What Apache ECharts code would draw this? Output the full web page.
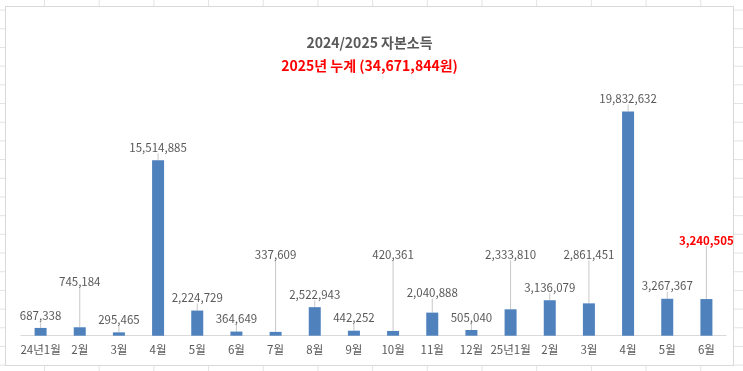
<!DOCTYPE html>
<html><head><meta charset="utf-8">
<script src="https://cdn.jsdelivr.net/npm/echarts@6/dist/echarts.min.js"></script>
<style>
html,body{margin:0;padding:0;width:743px;height:371px;overflow:hidden;}
body{background-color:#fff;
background-image:linear-gradient(to right,#e3e3e3 1px,transparent 1px),linear-gradient(to bottom,#e3e3e3 1px,transparent 1px);
background-size:54.7px 18.7px;background-position:44px 9.6px;}
#c{position:absolute;left:5px;top:6px;width:729px;height:360px;background:#fff;border:1px solid #d9d9d9;box-sizing:border-box;}
</style></head><body>
<div id="c"></div>
<script>
const categories = ['24년1월','2월','3월','4월','5월','6월','7월','8월','9월','10월','11월','12월','25년1월','2월','3월','4월','5월','6월'];
const values = [687338,745184,295465,15514885,2224729,364649,337609,2522943,442252,420361,2040888,505040,2333810,3136079,2861451,19832632,3267367,3240505];
const titleText = '2024/2025 자본소득';
const subtitleText = '2025년 누계 (34,671,844원)';
// label lift (px) for labels moved above their bars with leader lines
const labelLift = {1:-33, 6:-65, 9:-64, 10:-7, 12:-42, 14:-36, 17:-46};
const highlightIndex = 17;

const chart = echarts.init(document.getElementById('c'));
const font = '"Noto Sans CJK KR", "Noto Sans", sans-serif';
chart.setOption({
  animation:false,
  title:[
    {text:titleText,left:'center',top:24,textStyle:{fontFamily:font,fontSize:14,fontWeight:'bold',color:'#595959'}},
    {text:subtitleText,left:'center',top:47,textStyle:{fontFamily:font,fontSize:14,fontWeight:'bold',color:'#ff0000'}}
  ],
  grid:{left:15,right:7,top:46,bottom:29.3},
  xAxis:{type:'category',data:categories,
    axisLine:{lineStyle:{color:'#d9d9d9',width:1}},axisTick:{show:false},
    axisLabel:{color:'#595959',fontFamily:font,fontSize:11.5,margin:8,interval:0}},
  yAxis:{type:'value',min:0,max:25000000,show:false,splitLine:{show:false}},
  series:[{
    type:'bar',barWidth:12,
    itemStyle:{color:'#4F81BD'},
    data:values.map((v,i)=> i===highlightIndex ? {value:v,label:{color:'#ff0000',fontWeight:'bold'}} : v),
    label:{show:true,position:'top',distance:3,padding:[0,0,4,0],color:'#595959',fontFamily:font,fontSize:11.5,
      formatter:p=>p.value.toLocaleString('en-US')},
    labelLine:{show:true,lineStyle:{color:'#c8c8c8',width:1}},
    labelLayout:function(p){ const d = labelLift[p.dataIndex]; return d ? {dy:d} : {}; }
  }]
});
</script>
</body></html>
